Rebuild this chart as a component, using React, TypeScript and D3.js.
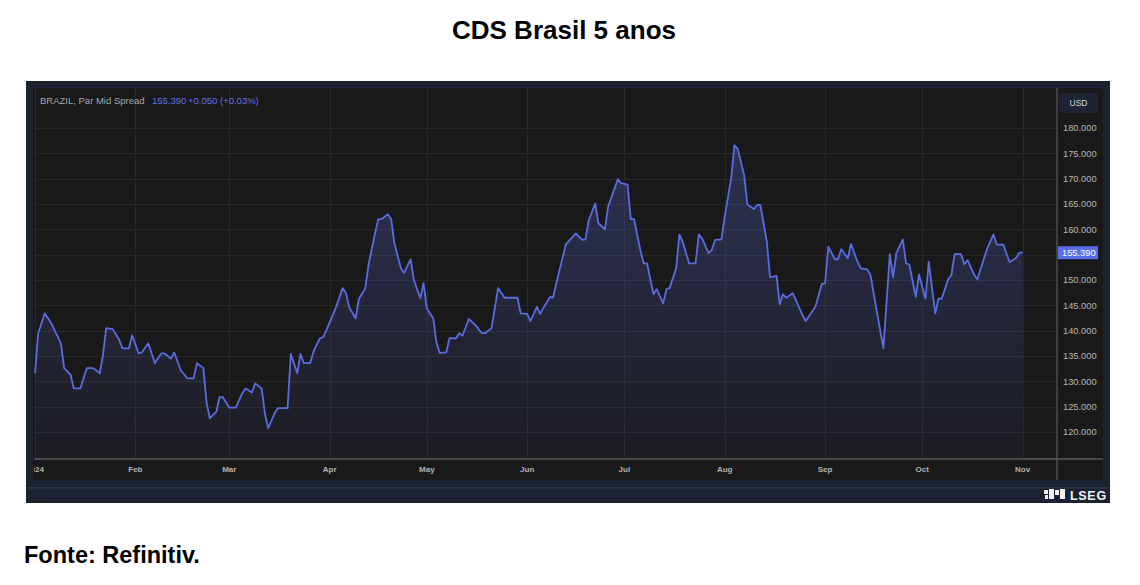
import * as d3 from 'd3';

// BRAZIL 5y CDS, Par Mid Spread
const days = [
  '2024-01-01', '2024-01-02', '2024-01-04', '2024-01-06', '2024-01-09', '2024-01-10', '2024-01-12', '2024-01-13',
  '2024-01-15', '2024-01-17', '2024-01-19', '2024-01-21', '2024-01-22', '2024-01-23', '2024-01-25', '2024-01-27',
  '2024-01-28', '2024-01-30', '2024-01-31', '2024-02-02', '2024-02-03', '2024-02-05', '2024-02-07', '2024-02-09',
  '2024-02-10', '2024-02-12', '2024-02-13', '2024-02-15', '2024-02-17', '2024-02-19', '2024-02-20', '2024-02-22',
  '2024-02-23', '2024-02-24', '2024-02-26', '2024-02-27', '2024-02-28', '2024-03-01', '2024-03-03', '2024-03-05',
  '2024-03-06', '2024-03-08', '2024-03-09', '2024-03-11', '2024-03-12', '2024-03-13', '2024-03-15', '2024-03-16',
  '2024-03-19', '2024-03-20', '2024-03-22', '2024-03-23', '2024-03-24', '2024-03-26', '2024-03-27', '2024-03-29',
  '2024-03-30', '2024-03-31', '2024-04-03', '2024-04-05', '2024-04-06', '2024-04-07', '2024-04-09', '2024-04-10',
  '2024-04-12', '2024-04-13', '2024-04-15', '2024-04-16', '2024-04-17', '2024-04-19', '2024-04-20', '2024-04-21',
  '2024-04-23', '2024-04-24', '2024-04-26', '2024-04-27', '2024-04-29', '2024-04-30', '2024-05-01', '2024-05-03',
  '2024-05-04', '2024-05-05', '2024-05-07', '2024-05-08', '2024-05-10', '2024-05-11', '2024-05-12', '2024-05-14',
  '2024-05-16', '2024-05-18', '2024-05-19', '2024-05-21', '2024-05-23', '2024-05-25', '2024-05-29', '2024-05-30',
  '2024-06-01', '2024-06-02', '2024-06-04', '2024-06-05', '2024-06-06', '2024-06-08', '2024-06-09', '2024-06-11',
  '2024-06-13', '2024-06-16', '2024-06-18', '2024-06-19', '2024-06-20', '2024-06-22', '2024-06-23', '2024-06-25',
  '2024-06-26', '2024-06-29', '2024-06-30', '2024-07-02', '2024-07-03', '2024-07-04', '2024-07-06', '2024-07-07',
  '2024-07-08', '2024-07-10', '2024-07-11', '2024-07-13', '2024-07-14', '2024-07-15', '2024-07-17', '2024-07-18',
  '2024-07-19', '2024-07-21', '2024-07-23', '2024-07-24', '2024-07-25', '2024-07-27', '2024-07-28', '2024-07-29',
  '2024-07-31', '2024-08-01', '2024-08-03', '2024-08-04', '2024-08-05', '2024-08-07', '2024-08-08', '2024-08-10',
  '2024-08-11', '2024-08-12', '2024-08-14', '2024-08-15', '2024-08-17', '2024-08-18', '2024-08-19', '2024-08-20',
  '2024-08-22', '2024-08-25', '2024-08-26', '2024-08-29', '2024-08-31', '2024-09-01', '2024-09-02', '2024-09-04',
  '2024-09-05', '2024-09-06', '2024-09-08', '2024-09-09', '2024-09-11', '2024-09-12', '2024-09-14', '2024-09-15',
  '2024-09-19', '2024-09-21', '2024-09-22', '2024-09-23', '2024-09-25', '2024-09-26', '2024-09-27', '2024-09-29',
  '2024-09-30', '2024-10-02', '2024-10-03', '2024-10-05', '2024-10-06', '2024-10-07', '2024-10-09', '2024-10-10',
  '2024-10-11', '2024-10-13', '2024-10-14', '2024-10-15', '2024-10-17', '2024-10-18', '2024-10-20', '2024-10-21',
  '2024-10-23', '2024-10-24', '2024-10-26', '2024-10-28', '2024-10-30', '2024-10-31', '2024-11-01',
];

const spread = [
  131.6, 139.5, 143.4, 141.5, 137.5, 132.6, 131.3, 128.6,
  128.6, 132.6, 132.6, 131.6, 135.2, 140.5, 140.3, 138.2,
  136.5, 136.5, 139.1, 135.5, 135.7, 137.5, 133.6, 135.5,
  135.5, 134.5, 135.7, 132.2, 130.6, 130.6, 133.6, 132.6,
  125.7, 122.7, 124.0, 126.9, 126.9, 124.8, 124.8, 127.6,
  128.6, 127.8, 129.6, 128.6, 123.7, 120.7, 123.7, 124.7,
  124.7, 135.4, 131.6, 135.4, 133.6, 133.6, 135.9, 138.5,
  138.7, 140.1, 144.7, 148.4, 147.5, 144.7, 142.4, 146.2,
  148.4, 153.0, 159.2, 162.0, 162.0, 163.0, 162.0, 157.2,
  152.3, 151.4, 154.1, 150.0, 146.4, 149.4, 144.4, 142.4,
  137.6, 135.6, 135.7, 138.5, 138.5, 139.5, 139.0, 142.3,
  141.1, 139.5, 139.5, 140.5, 148.4, 146.5, 146.5, 143.4,
  143.3, 141.9, 144.7, 143.3, 144.5, 146.6, 146.6, 152.0,
  157.1, 159.2, 157.9, 158.0, 161.8, 165.1, 161.2, 160.0,
  164.5, 169.9, 169.1, 168.8, 162.0, 162.0, 155.7, 153.3,
  153.3, 147.2, 148.2, 145.4, 148.2, 148.4, 152.3, 159.0,
  157.6, 153.3, 153.3, 159.0, 158.2, 155.3, 155.9, 157.9,
  158.0, 162.5, 170.1, 176.6, 175.9, 170.7, 164.9, 164.0,
  164.8, 164.8, 157.6, 150.5, 150.8, 145.2, 147.2, 146.5,
  147.4, 143.1, 141.9, 144.7, 149.2, 149.4, 156.6, 154.1,
  154.1, 156.1, 154.3, 157.1, 153.6, 152.3, 152.1, 151.0,
  136.5, 155.1, 150.5, 155.3, 158.0, 153.3, 153.1, 146.7,
  151.1, 146.3, 153.6, 143.4, 146.3, 146.3, 150.1, 151.0,
  155.1, 155.1, 153.1, 153.9, 151.1, 150.1, 154.1, 156.1,
  159.0, 157.0, 157.0, 153.5, 154.4, 155.4, 155.39,
];

const priceTicks = [120, 125, 130, 135, 140, 145, 150, 155, 160, 165, 170, 175, 180];
const lastValue = 155.39;
const lastChange = '+0.050 (+0.03%)';

const W = 1140;
const H = 585;
const chartFont = '"Liberation Sans", Arial, sans-serif';
const LINE = '#5b6ce0';

export default function App() {
  const parse = d3.timeParse('%Y-%m-%d');
  const points = days.map((d, i) => ({ date: parse(d) as Date, value: spread[i] }));

  // plot area inside the dark panel
  const left = 34;
  const right = 1057;
  const top = 88;
  const bottom = 459;

  const x = d3.scaleTime()
    .domain([new Date(2024, 0, 1), new Date(2024, 10, 11)])
    .range([35, 1055]);
  const y = d3.scaleLinear().domain([120, 180]).range([432, 128]);

  const line = d3.line<{ date: Date; value: number }>()
    .x(d => x(d.date))
    .y(d => y(d.value));
  const area = d3.area<{ date: Date; value: number }>()
    .x(d => x(d.date))
    .y0(bottom)
    .y1(d => y(d.value));

  const months = d3.timeMonth.range(new Date(2024, 0, 1), new Date(2024, 10, 2));
  const monthFmt = (d: Date) => (d.getMonth() === 0 ? d3.timeFormat('%Y')(d) : d3.timeFormat('%b')(d));
  const priceFmt = d3.format('.3f');
  const yLast = y(lastValue);

  return (
    <svg width={W} height={H} style={{ position: 'absolute', left: 0, top: 0 }}>
      <defs>
        <linearGradient id="fill" gradientUnits="userSpaceOnUse" x1="0" y1={y(178)} x2="0" y2={bottom}>
          <stop offset="0%" stopColor={LINE} stopOpacity={0.3} />
          <stop offset="100%" stopColor={LINE} stopOpacity={0.04} />
        </linearGradient>
        <clipPath id="plot">
          <rect x={left} y={top} width={right - left} height={bottom - top} />
        </clipPath>
        <clipPath id="timeaxis">
          <rect x={left} y={bottom} width={right - left} height={22} />
        </clipPath>
      </defs>

      <rect width={W} height={H} fill="#fff" />

      <text x={564} y={39} textAnchor="middle" fontFamily={chartFont} fontWeight="bold" fontSize={26} fill="#000">
        CDS Brasil 5 anos
      </text>

      {/* panel */}
      <rect x={26} y={81} width={1084} height={422} fill="#1d2232" />
      <rect x={33} y={88} width={1070} height={392} fill="#191919" />
      <rect x={26} y={487} width={1084} height={1.5} fill="#2d3447" />

      {/* grid */}
      <g stroke="#282828" strokeWidth={1}>
        {priceTicks.map(t => (
          <line key={t} x1={left} x2={right} y1={Math.round(y(t)) + 0.5} y2={Math.round(y(t)) + 0.5} />
        ))}
        {months.map(m => (
          <line key={+m} x1={Math.round(x(m)) + 0.5} x2={Math.round(x(m)) + 0.5} y1={top} y2={bottom} />
        ))}
      </g>

      {/* series */}
      <g clipPath="url(#plot)">
        <path d={area(points) ?? ''} fill="url(#fill)" />
        <path d={line(points) ?? ''} fill="none" stroke={LINE} strokeWidth={1.8} strokeLinejoin="round" />
      </g>

      {/* axes frame */}
      <line x1={left} x2={1103} y1={bottom} y2={bottom} stroke="#5a5a5a" strokeWidth={1.5} />
      <line x1={right} x2={right} y1={top} y2={480} stroke="#5a5a5a" strokeWidth={1.2} />

      {/* time axis */}
      <g clipPath="url(#timeaxis)" fontFamily={chartFont} fontSize={8} fontWeight="bold" fill="#b4b4b4">
        {months.map(m => (
          <text key={+m} x={x(m)} y={472} textAnchor="middle">{monthFmt(m)}</text>
        ))}
      </g>

      {/* price axis */}
      <rect x={1059} y={93} width={39} height={20} rx={3} fill="#1f2434" />
      <text x={1078.5} y={106} textAnchor="middle" fontFamily={chartFont} fontSize={8.5} fill="#d8d8d8">USD</text>
      <g fontFamily={chartFont} fontSize={9.3} fill="#b8b8b8">
        {priceTicks.filter(t => Math.abs(y(t) - yLast) > 10).map(t => (
          <text key={t} x={1063} y={y(t) + 3.2}>{priceFmt(t)}</text>
        ))}
      </g>
      <rect x={1058} y={yLast - 6.5} width={40} height={13} fill="#5b6ce8" />
      <text x={1062} y={yLast + 3.2} fontFamily={chartFont} fontSize={9.3} fill="#fff">{priceFmt(lastValue)}</text>

      {/* legend */}
      <g fontFamily={chartFont} fontSize={9.5}>
        <text x={40} y={104} fill="#a8a8a8">BRAZIL, Par Mid Spread</text>
        <text x={152} y={104} fill="#6673e6">{priceFmt(lastValue)}</text>
        <text x={188} y={104} fill="#6673e6">{lastChange}</text>
      </g>

      {/* LSEG mark */}
      <g fill="#f2f2f2">
        <rect x={1044} y={490} width={4} height={4} />
        <rect x={1049} y={489} width={5} height={10} />
        <rect x={1055} y={490} width={4} height={5} />
        <rect x={1060} y={489} width={5} height={10} />
        <rect x={1045} y={495} width={3} height={4} />
        <text x={1070} y={500} fontFamily={chartFont} fontWeight="bold" fontSize={12.5} letterSpacing={0.7}>LSEG</text>
      </g>

      <text x={24} y={563} fontFamily={chartFont} fontWeight="bold" fontSize={23.5} fill="#000">
        Fonte: Refinitiv.
      </text>
    </svg>
  );
}
